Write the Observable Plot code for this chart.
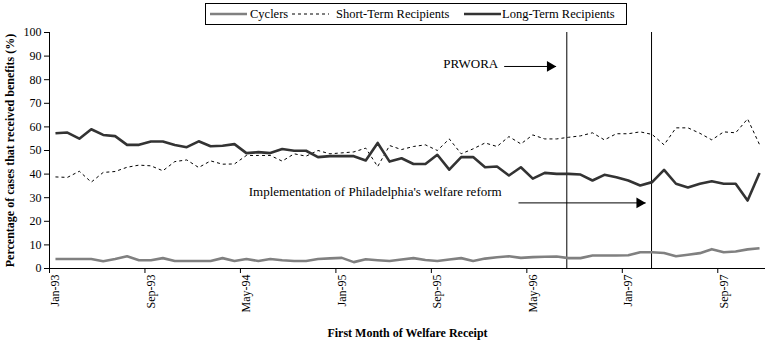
<!DOCTYPE html>
<html><head><meta charset="utf-8">
<script src="https://cdn.jsdelivr.net/npm/d3@7"></script>
<script src="https://cdn.jsdelivr.net/npm/@observablehq/plot@0.6"></script>
<style>
body{margin:0;background:#fff;}
#wrap{position:relative;width:767px;height:341px;font-family:"Liberation Serif","Times New Roman",serif;}
#legend{position:absolute;left:205px;top:3px;width:420px;height:20px;border:1px solid #000;background:#fff;}
</style></head><body><div id="wrap"><div id="legend"></div></div>
<script>
// ---- data ----
const seriesNames = ["Cyclers", "Short-Term Recipients", "Long-Term Recipients"];
const cyclers = [4.0,4.0,4.0,4.0,3.1,4.0,5.2,3.5,3.5,4.4,3.2,3.2,3.2,3.2,4.4,3.2,4.0,3.2,4.0,3.5,
  3.2,3.2,4.0,4.3,4.5,2.7,3.9,3.5,3.2,3.8,4.4,3.6,3.2,3.8,4.4,3.2,4.2,4.8,5.2,4.5,
  4.8,5.0,5.1,4.4,4.4,5.5,5.5,5.5,5.6,6.9,6.9,6.6,5.2,5.8,6.5,8.2,6.9,7.2,8.1,8.6];
const shortTerm = [38.8,38.6,41.2,36.6,40.7,41.1,42.9,43.8,43.5,41.4,45.3,46.0,42.8,45.6,44.2,
  44.3,47.9,47.9,47.9,45.5,48.6,47.6,50.0,48.6,49.0,49.4,51.0,43.2,52.1,50.4,
  51.7,52.4,50.0,54.9,48.6,50.7,53.2,51.7,55.9,52.8,56.6,54.9,54.9,55.6,56.2,
  57.5,54.5,57.1,57.1,57.9,56.8,52.4,59.6,59.6,57.3,54.5,57.9,57.5,63.4,52.5];
const longTerm = [57.3,57.6,55.0,59.0,56.6,56.1,52.4,52.4,53.8,53.8,52.3,51.4,53.9,51.8,52.0,
  52.7,48.9,49.3,48.9,50.6,49.9,49.9,47.2,47.6,47.6,47.6,45.8,53.2,45.3,46.7,
  44.3,44.3,48.2,41.9,47.2,47.2,42.9,43.2,39.4,42.9,38.1,40.5,40.1,40.1,39.8,
  37.3,39.7,38.7,37.3,35.2,36.6,41.8,35.9,34.3,35.9,37.0,35.9,35.9,28.8,40.5];
const yTicks = [0,10,20,30,40,50,60,70,80,90,100];
const events = [{name:"PRWORA", pos:42.85}, {name:"Philadelphia reform", pos:49.95}];
const noteRight = [{label:"PRWORA", x:37.1, y:86.7}];
const noteLeft = [{label:"Implementation of Philadelphia's welfare reform", x:16.2, y:32.4}];
const arrows = [{x1:37.6, x2:41.95, y:85.6}, {x1:38.8, x2:49.45, y:27.8}];
const yTitle = "Percentage of cases that received benefits (%)";
const xTitle = "First Month of Welfare Receipt";

// ---- styles ----
const styles = {
  "Cyclers": {stroke:"#808080", width:2.6, dash:null},
  "Short-Term Recipients": {stroke:"#000000", width:1, dash:"3,3"},
  "Long-Term Recipients": {stroke:"#333333", width:2.6, dash:null}
};

const values = [cyclers, shortTerm, longTerm];
const n = cyclers.length;
const months = d3.utcMonth.range(new Date(Date.UTC(1993,0,1)), new Date(Date.UTC(1998,0,1)));
const fmt = d3.utcFormat("%b-%y");
const labelIdx = d3.range(0, n, 8);
const boundaries = labelIdx.map(i => i - 0.5);

const lineMarks = seriesNames.map((s, k) => Plot.line(values[k].map((v, i) => ({i, v})), {
  x: "i", y: "v", stroke: styles[s].stroke, strokeWidth: styles[s].width,
  strokeDasharray: styles[s].dash ?? undefined, strokeLinejoin: "round", strokeLinecap: "butt"
}));

const chart = Plot.plot({
  width: 767, height: 341,
  marginLeft: 49, marginRight: 2, marginTop: 32, marginBottom: 73,
  style: {fontFamily: '"Liberation Serif","Times New Roman",serif', fontSize: "12px", background: "#fff", color: "#000", overflow: "visible"},
  x: {domain: [-0.5, n - 0.5]},
  y: {domain: [0, 100]},
  marks: [
    Plot.axisY({ticks: yTicks, tickSize: 5, tickPadding: 3, label: null, fontSize: 12}),
    Plot.axisX({ticks: boundaries, tickSize: 5, tickFormat: () => "", label: null}),
    Plot.axisX({ticks: labelIdx, tickSize: 0, tickPadding: 6, tickRotate: -90, tickFormat: i => fmt(months[i]), label: null, fontSize: 12}),
    Plot.ruleX(events, {x: "pos", stroke: "#000", strokeWidth: 1}),
    ...lineMarks,
    Plot.ruleX([-0.5], {stroke: "#000"}),
    Plot.ruleY([0], {stroke: "#000"}),
    Plot.text(noteRight, {x: "x", y: "y", text: "label", textAnchor: "end", fontSize: 13}),
    Plot.text(noteLeft, {x: "x", y: "y", text: "label", textAnchor: "start", fontSize: 13}),
    Plot.link(arrows, {x1: "x1", x2: "x2", y1: "y", y2: "y", stroke: "#000", strokeWidth: 1}),
    Plot.dot(arrows, {x: "x2", y: "y", symbol: "triangle", rotate: 90, r: 4, fill: "#000", stroke: "none", dx: -6}),
    Plot.text([yTitle], {frameAnchor: "left", rotate: -90, dx: -39, textAnchor: "middle", lineAnchor: "middle", fontWeight: "bold", fontSize: 12}),
    Plot.text([xTitle], {frameAnchor: "bottom", dy: 65, textAnchor: "middle", lineAnchor: "middle", fontWeight: "bold", fontSize: 12})
  ]
});
document.getElementById("wrap").appendChild(chart);

// ---- legend ----
const lg = d3.select("#legend").append("svg").attr("width", 420).attr("height", 20)
  .style("display", "block").style("font-family", '"Liberation Serif","Times New Roman",serif').style("font-size", "12.5px");
const legendPos = [{lx: 4, tx: 44}, {lx: 86, tx: 130}, {lx: 258, tx: 296}];
seriesNames.forEach((s, k) => {
  const st = styles[s];
  lg.append("line").attr("x1", legendPos[k].lx).attr("x2", legendPos[k].lx + 37).attr("y1", 10).attr("y2", 10)
    .attr("stroke", st.stroke).attr("stroke-width", st.width).attr("stroke-dasharray", st.dash);
  lg.append("text").attr("x", legendPos[k].tx).attr("y", 10).attr("dy", "0.35em").text(s);
});
</script>
</body></html>
